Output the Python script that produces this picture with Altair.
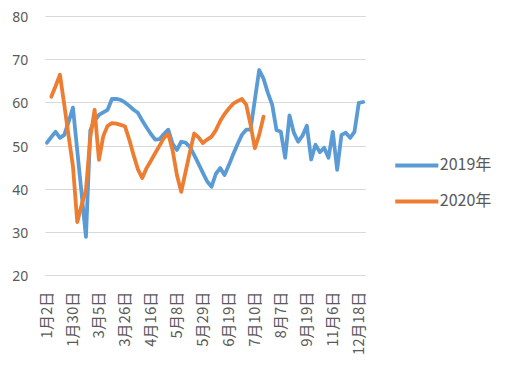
import altair as alt
import pandas as pd

dates = [
    "1月2日", "1月4日", "1月9日", "1月11日", "1月16日", "1月23日",
    "1月30日", "2月13日", "2月15日", "2月20日", "2月22日", "2月27日",
    "3月5日", "3月8日", "3月12日", "3月15日", "3月19日", "3月22日",
    "3月26日", "3月29日", "4月2日", "4月4日", "4月9日", "4月12日",
    "4月16日", "4月19日", "4月23日", "4月26日", "4月30日", "5月5日",
    "5月8日", "5月10日", "5月14日", "5月17日", "5月21日", "5月24日",
    "5月29日", "5月31日", "6月4日", "6月6日", "6月11日", "6月14日",
    "6月19日", "6月21日", "6月25日", "6月28日", "7月2日", "7月5日",
    "7月10日", "7月17日", "7月19日", "7月24日", "7月26日", "7月31日",
    "8月7日", "8月14日", "8月21日", "8月28日", "9月4日", "9月11日",
    "9月19日", "9月26日", "10月9日", "10月16日", "10月23日", "10月30日",
    "11月6日", "11月13日", "11月20日", "11月27日", "12月4日", "12月11日",
    "12月18日", "12月25日",
]

v2019 = [
    50.7, 52.0, 53.2, 51.8, 52.5, 55.5, 58.8, 48.8, 38.9, 28.9,
    53.5, 55.8, 57.1, 57.7, 58.3, 60.8, 60.8, 60.6, 60.0, 59.2,
    58.3, 57.6, 55.8, 54.2, 52.7, 51.4, 51.5, 52.7, 53.7, 50.4,
    49.0, 50.9, 50.7, 49.7, 47.8, 45.8, 43.7, 41.7, 40.5, 43.5,
    44.8, 43.2, 45.5, 48.0, 50.3, 52.5, 53.7, 53.7, 60.6, 67.5,
    65.5, 62.2, 59.5, 53.6, 53.2, 47.2, 57.0, 53.0, 50.9, 52.3,
    54.6, 46.8, 50.2, 48.5, 49.5, 47.2, 53.2, 44.4, 52.5, 53.0,
    51.8, 53.2, 59.9, 60.1,
]

# 2020 series begins at the second category
v2020 = [
    61.3, 63.8, 66.4, 59.4, 52.2, 45.2, 32.3, 36.3, 39.7, 51.9,
    58.3, 46.7, 52.2, 54.6, 55.2, 55.1, 54.8, 54.5, 51.4, 47.8,
    44.5, 42.5, 44.8, 46.5, 48.3, 50.0, 51.8, 52.7, 49.0, 43.2,
    39.3, 43.9, 48.5, 52.8, 51.9, 50.6, 51.4, 52.1, 53.6, 55.7,
    57.3, 58.6, 59.7, 60.3, 60.8, 59.5, 54.9, 49.4, 52.5, 56.7,
]
v2020_start = 1

series_names = ["2019年", "2020年"]
series_colors = ["#5B9BD5", "#ED7D31"]
y_ticks = [20, 30, 40, 50, 60, 70, 80]
label_dates = dates[::6]

rows = []
for i, v in enumerate(v2019):
    rows.append({"date": dates[i], "series": series_names[0], "value": v, "idx": i})
for j, v in enumerate(v2020):
    i = j + v2020_start
    rows.append({"date": dates[i], "series": series_names[1], "value": v, "idx": i})
df = pd.DataFrame(rows)

FONT = "Noto Sans CJK SC"
TXT = "#595959"

chart = alt.Chart(df).mark_line(
    strokeWidth=3.8, strokeJoin="round", strokeCap="round"
).encode(
    x=alt.X(
        "date:O",
        sort=dates,
        scale=alt.Scale(type="point", padding=0.5),
        axis=alt.Axis(
            values=label_dates, labelAngle=-90, title=None,
            domain=False, ticks=False, grid=False,
            labelFont=FONT, labelFontSize=15, labelColor=TXT,
            labelPadding=16, labelOverlap=False,
        ),
    ),
    y=alt.Y(
        "value:Q",
        scale=alt.Scale(domain=[20, 80], nice=False, zero=False),
        axis=alt.Axis(
            values=y_ticks, title=None, domain=False, ticks=False,
            gridColor="#D9D9D9", gridWidth=1,
            labelFont="Noto Sans", labelFontSize=14, labelColor=TXT,
            labelPadding=17, labelOffset=1.5,
        ),
    ),
    color=alt.Color(
        "series:N",
        scale=alt.Scale(domain=series_names, range=series_colors),
        legend=alt.Legend(
            title=None, orient="none", legendX=362, legendY=139.5,
            symbolType="M-2.8,0L2.8,0", symbolSize=237, symbolStrokeWidth=4,
            labelFont=FONT, labelFontSize=16, labelColor=TXT,
            labelOffset=13, rowPadding=18, padding=0,
        ),
    ),
    order="idx:Q",
).properties(
    width=320.5,
    height=259.3,
    autosize=alt.AutoSizeParams(type="none"),
    padding={"left": 36.8, "top": 8, "right": 133, "bottom": 84},
).configure_view(strokeWidth=0)

chart.save("out.html", embed_options={"renderer": "svg", "actions": False})
